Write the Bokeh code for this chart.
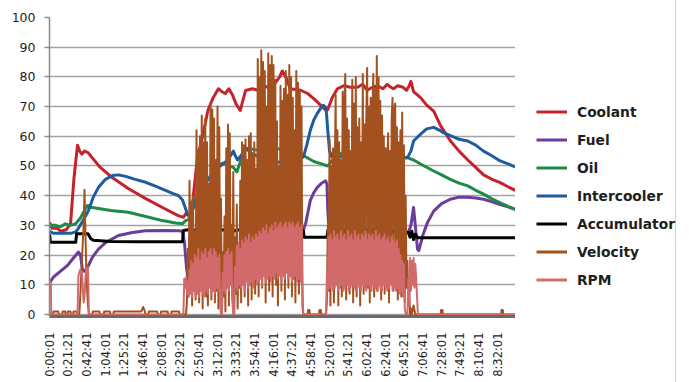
import numpy as np
from bokeh.plotting import figure
from bokeh.layouts import row
from bokeh.models import Range1d, FixedTicker, Legend, LegendItem
from bokeh.embed import file_html
from bokeh.resources import INLINE

# ---- time axis labels (h:mm:ss) -------------------------------------------
tick_labels = ["0:00:01", "0:21:21", "0:42:41", "1:04:01", "1:25:21", "1:46:41",
               "2:08:01", "2:29:21", "2:50:41", "3:12:01", "3:33:21", "3:54:41",
               "4:16:01", "4:37:21", "4:58:41", "5:20:01", "5:41:21", "6:02:41",
               "6:24:01", "6:45:21", "7:06:41", "7:28:01", "7:49:21", "8:10:41",
               "8:32:01"]
y_ticks = [0, 10, 20, 30, 40, 50, 60, 70, 80, 90, 100]
run_end = 532.5  # minutes

# ---- temperature / pressure channels (time in minutes) ---------------------
coolant_t = [0, 3, 9, 13, 19, 24, 28, 32, 34.5, 37, 40, 44, 58, 72, 90, 110, 129, 147, 153, 156,
             160, 163, 169, 174, 181, 187, 193, 197, 201, 205, 209, 213, 218, 224, 232, 238, 244, 250, 258, 263,
             266, 270, 275, 287, 295, 302, 310, 316, 318, 323, 329, 336, 344, 352, 358, 363, 369, 375, 381, 386,
             390, 393, 398, 404, 408, 411, 413, 416, 424, 431, 439, 447, 458, 468, 478, 487, 496, 505, 515, 524, 532]
coolant_v = [31, 29, 29, 28, 28.5, 30.5, 46, 57, 55, 54, 55, 54.5, 49.5, 46, 42.4, 39, 36, 33.3, 32.7, 34,
             33, 36, 53, 58.6, 68.7, 73, 76, 75, 74.4, 76, 74, 71, 68.7, 75.4, 76, 75.5, 77, 76.5, 78, 80,
             82, 80, 76, 75.5, 74.4, 72.7, 70.4, 68.7, 69, 73, 76, 77, 76.5, 76.5, 77.5, 75.5, 76.5, 77, 76, 77.5,
             76.5, 76, 77, 76.5, 75.5, 77, 78.5, 75, 73, 70.5, 68.5, 63.5, 58.5, 55, 52, 49.5, 47, 45.6, 44.4, 43, 41.8]

fuel_t = [0.5, 4.6, 10.3, 20.6, 27.4, 33.1, 35.4, 37.7, 40, 43.4, 49.1, 56, 64, 78.8, 94.8, 109.7, 130, 147.4, 152, 154.3,
          156.5, 158, 162, 170, 185, 200, 215, 230, 250, 270, 290, 293, 295, 298, 302, 306, 311, 315.4, 317, 318,
          319.5, 322, 360, 410, 413, 416, 418, 420.5, 422, 427, 432, 439, 448, 458, 468, 478, 487, 496, 505, 515, 524, 532]
fuel_v = [10.8, 12.6, 14, 16.5, 19, 21, 20, 15, 14.5, 15.8, 19.3, 22, 24.2, 26.6, 27.6, 28.2, 28.3, 28.2, 28, 24,
          16, 12.5, 12, 14, 18, 21, 23.5, 25.5, 27, 27.5, 28.3, 31, 34, 38.4, 41, 42.8, 44.2, 45, 44, 35,
          28, 27.5, 27.8, 27.5, 30, 36, 30, 22, 21.5, 27, 31, 34.8, 37.3, 38.8, 39.5, 39.5, 39.2, 38.8, 38, 37, 36.2, 35.4]

oil_t = [0, 7, 12.6, 18, 24, 29.7, 35.4, 41, 43.4, 49, 56, 70, 90, 110, 129, 144, 152, 155, 159, 165,
         175, 185, 193, 198, 205, 210, 214, 220, 224, 235, 243, 250, 258, 265, 275, 283, 290, 296, 302, 310,
         317.7, 321, 326, 335, 352, 370, 390, 409, 416, 425, 439, 448, 458, 468, 478, 487, 496, 505, 515, 524, 532]
oil_v = [30, 30, 29.5, 30.5, 30, 30.5, 32.5, 35.5, 36.7, 36, 35.7, 35, 34.4, 33, 31.6, 30.8, 30.5, 31.5, 32, 38,
         43, 47, 50, 51, 50, 49.5, 48, 53, 56, 55.5, 55.4, 55, 56, 55.5, 55, 54.3, 53.5, 52.5, 51.5, 50.8,
         50, 51, 53, 54.5, 54.3, 54, 53.5, 52.8, 52, 50.5, 48.3, 47, 45.5, 44.2, 43.3, 41.8, 40.5, 39, 37.6, 36.4, 35.4]

intercooler_t = [0, 4.6, 24, 30, 33, 39, 44.6, 50, 56, 64, 72, 79, 87, 98, 110, 121, 132.6, 140.5, 147.4, 152,
                 155, 158, 162, 170, 180, 190, 200, 206, 210, 213, 215, 220, 224, 232, 240, 250, 258, 265, 275, 286,
                 290, 294, 298, 302, 306, 310, 313, 316, 318, 320, 323, 330, 345, 360, 375, 390, 400, 409, 413, 416,
                 424, 431, 439, 446, 450, 458, 468, 478, 487, 496, 505, 515, 524, 532]
intercooler_v = [28, 27.3, 27.3, 27.8, 29, 32, 35, 39.5, 42.8, 45.5, 46.8, 47, 46.5, 45.5, 44.5, 43.2, 41.8, 40.8, 40, 38.5,
                 36, 33.5, 34, 40, 45, 49, 51, 53, 55, 53, 52, 54, 56, 54, 53, 52, 51, 51.5, 52, 52.5,
                 53, 57, 62, 65.5, 67.7, 69.5, 70.4, 69.5, 62, 55, 53, 53, 53.5, 52.5, 52.3, 52, 52.5, 52.8, 55, 58.4,
                 60.7, 62.5, 63, 62, 61.2, 60.2, 59, 58.4, 57, 55, 53.5, 51.7, 50.7, 49.7]

accumulator_t = [0, 0.5, 1, 30, 31, 44, 47, 50, 70, 100, 152, 153, 160, 170, 180, 190, 200, 210, 220, 230,
                 240, 250, 260, 270, 280, 290, 291, 317, 318, 330, 350, 370, 390, 409, 410, 412, 414, 416, 418, 421, 532]
accumulator_v = [27, 26, 24.3, 24.3, 27.2, 27.2, 25.6, 25, 24.6, 24.5, 24.5, 28.3, 28.6, 28.2, 28.8, 28.3, 28.5, 28.1, 28.7, 28.3,
                 28.6, 28.2, 28.8, 28.4, 28.6, 28.3, 26, 26, 28.3, 28.5, 28.2, 28.6, 28.3, 27.7, 27.7, 26, 28, 25.2, 27, 25.8, 25.8]

# ---- velocity: idle stretches as (t, v) points, driving bursts logged per minute
velocity_idle_a = [(0, 0), (4, 0), (4.5, 1), (10, 1), (10.5, 0), (14.5, 0), (15, 1), (18, 1), (18.5, 0),
                   (20.5, 0), (21, 1), (24, 1), (24.5, 0), (27, 0), (27.5, 1), (31, 1), (31.5, 0), (34, 0),
                   (35, 5), (37, 18), (39, 30), (40, 42), (41, 28), (42, 16), (43, 8), (44, 3), (45, 0),
                   (49, 0), (49.5, 1), (57, 1), (57.5, 0), (62, 0), (62.5, 1), (69, 1), (69.5, 0), (73, 0),
                   (73.5, 1), (105, 1), (107, 2.5), (109, 1), (109.5, 0), (113, 0), (113.5, 1), (123, 1),
                   (123.5, 0), (127, 0), (127.5, 1), (135, 1), (135.5, 0), (139, 0), (139.5, 1), (148, 1),
                   (148.5, 0), (156, 0)]
velocity_burst1_start = 157
velocity_burst1 = [4, 22, 6, 45, 8, 38, 3, 40, 10, 28, 5, 62, 12, 55, 4, 60, 9, 67, 2, 58,
                   11, 66, 6, 58, 3, 44, 10, 71, 5, 69, 12, 66, 4, 52, 8, 70, 2, 63, 9, 39,
                   0, 21, 6, 33, 1, 56, 10, 64, 3, 61, 11, 30, 5, 48, 0, 26, 7, 37, 2, 22,
                   9, 45, 4, 58, 12, 57, 6, 59, 13, 52, 3, 60, 10, 61, 5, 54, 14, 58, 7, 49,
                   12, 86, 6, 80, 15, 89, 9, 85, 13, 82, 4, 70, 16, 88, 8, 84, 14, 87, 6, 84,
                   17, 79, 10, 65, 3, 50, 15, 77, 8, 72, 13, 76, 5, 82, 16, 74, 9, 84, 14, 80,
                   6, 73, 12, 62, 4, 82, 15, 78, 7, 75, 13, 70, 3, 0]
velocity_idle_b = [(291, 0), (295, 0), (295.5, 1.5), (297, 1.5), (297.5, 0), (308, 0), (308.5, 1.5),
                   (310, 1.5), (310.5, 0), (316, 0)]
velocity_burst2_start = 317
velocity_burst2 = [5, 30, 8, 59, 3, 50, 12, 56, 4, 48, 74, 10, 62, 3, 58, 14, 52, 6, 75, 11,
                   70, 81, 5, 66, 13, 62, 7, 55, 15, 79, 4, 71, 12, 80, 6, 63, 14, 66, 3, 58,
                   12, 81, 7, 64, 16, 66, 83, 9, 70, 4, 73, 13, 68, 81, 6, 76, 14, 87, 8, 80,
                   12, 72, 5, 67, 15, 60, 7, 56, 11, 52, 61, 4, 55, 13, 66, 73, 8, 69, 71, 10,
                   63, 5, 58, 14, 62, 6, 68, 12, 57, 4, 40, 9, 18, 3, 8, 0, 2]
velocity_idle_c = [(414, 0), (416, 3), (418, 0), (447, 0), (447.5, 1.5), (449, 1.5), (449.5, 0),
                   (516, 0), (516.5, 1.5), (518, 1.5), (518.5, 0), (532.5, 0)]

# ---- engine speed (scaled) --------------------------------------------------
rpm_idle_a = [(0, 10.8), (1.5, 10.8), (2, 0), (32, 0), (33, 13), (35, 15), (36, 13.5), (37, 14.5),
              (38, 9), (39, 4), (40, 6), (41, 12), (42, 15.5), (43, 14), (44, 16), (45, 0), (153, 0)]
rpm_burst1_start = 154
rpm_burst1 = [12, 9, 12.5, 7, 11, 6, 15, 7, 18, 6, 17, 8, 20, 6, 19, 7, 22, 6, 18, 8,
              21, 7, 20, 6, 22, 8, 19, 7, 21, 9, 22, 7, 20, 8, 22, 7, 21, 9, 19, 8,
              20, 3, 0, 0, 14, 8, 20, 7, 21, 9, 22, 8, 20, 10, 21, 4, 0, 0, 16, 9,
              23, 8, 24, 10, 22, 9, 25, 10, 24, 8, 26, 11, 25, 9, 27, 10, 24, 11, 26, 9,
              25, 12, 27, 10, 26, 11, 28, 12, 27, 10, 29, 13, 28, 11, 30, 12, 27, 13, 29, 11,
              30, 13, 28, 12, 31, 14, 29, 12, 30, 13, 31, 11, 29, 13, 30, 12, 31, 14, 29, 12,
              31, 13, 30, 11, 31, 12, 29, 13, 30, 11, 31, 12, 29, 11, 30, 10, 0]
rpm_idle_b = [(291, 0), (315, 0)]
rpm_burst2_start = 316
rpm_burst2 = [0, 14, 8, 26, 9, 27, 10, 25, 8, 28, 9, 26, 10, 27, 8, 25, 9, 28, 10, 26,
              8, 27, 9, 25, 10, 28, 8, 26, 9, 27, 10, 25, 9, 28, 8, 26, 10, 27, 9, 25,
              8, 27, 10, 26, 9, 28, 8, 25, 10, 27, 9, 26, 8, 27, 10, 25, 9, 28, 8, 26,
              10, 27, 9, 25, 8, 26, 10, 27, 9, 25, 8, 26, 9, 24, 10, 26, 8, 25, 9, 24,
              8, 25, 9, 22, 7, 20, 8, 18, 6, 17, 2, 0, 0, 0, 12, 3, 19, 8, 18, 10,
              19, 9, 17, 12, 6, 0]
rpm_idle_c = [(422, 0), (532.5, 0)]


def hms_to_min(s):
    h, m, sec = (int(x) for x in s.split(":"))
    return h * 60 + m + sec / 60.0


def assemble(*parts):
    """Join (t, v) point lists and per-minute bursts (start, values) into arrays."""
    ts, vs = [], []
    for part in parts:
        if isinstance(part, tuple):
            start, vals = part
            ts.extend(start + np.arange(len(vals)))
            vs.extend(vals)
        else:
            ts.extend(pt[0] for pt in part)
            vs.extend(pt[1] for pt in part)
    return np.array(ts, dtype=float), np.array(vs, dtype=float)


velocity_t, velocity_v = assemble(velocity_idle_a, (velocity_burst1_start, velocity_burst1),
                                  velocity_idle_b, (velocity_burst2_start, velocity_burst2),
                                  velocity_idle_c)
rpm_t, rpm_v = assemble(rpm_idle_a, (rpm_burst1_start, rpm_burst1), rpm_idle_b,
                        (rpm_burst2_start, rpm_burst2), rpm_idle_c)

FONT = "DejaVu Sans"

# ---- main time-series plot ---------------------------------------------------
p = figure(width=515, height=382, output_backend="svg", toolbar_location=None,
           x_range=Range1d(0, run_end), y_range=Range1d(-0.7, 100),
           min_border_left=49, min_border_right=0, min_border_top=17, min_border_bottom=66)
p.outline_line_color = None
p.background_fill_color = "white"
p.border_fill_color = "white"

p.xgrid.grid_line_color = None
p.ygrid.grid_line_color = "#a3a3a3"
p.ygrid.grid_line_width = 1.5

p.yaxis.ticker = FixedTicker(ticks=y_ticks)
p.yaxis.axis_line_color = "#8c8c8c"
p.yaxis.axis_line_width = 1.5
p.yaxis.major_tick_line_color = "#8c8c8c"
p.yaxis.major_tick_line_width = 1.5
p.yaxis.major_tick_out = 5
p.yaxis.major_tick_in = 0
p.yaxis.minor_tick_line_color = None
p.yaxis.major_label_standoff = 9
p.yaxis.major_label_text_font = FONT
p.yaxis.major_label_text_font_size = "12.5px"
p.yaxis.major_label_text_color = "#1e1e1e"

tick_pos = [hms_to_min(s) for s in tick_labels]
p.xaxis.ticker = FixedTicker(ticks=tick_pos)
p.xaxis.major_label_overrides = {tp: lab for tp, lab in zip(tick_pos, tick_labels)}
p.xaxis.major_label_orientation = np.pi / 2
p.xaxis.axis_line_color = "#6b6b6b"
p.xaxis.axis_line_width = 3
p.xaxis.major_tick_line_color = None
p.xaxis.minor_tick_line_color = None
p.xaxis.major_label_standoff = 10
p.xaxis.major_label_text_font = FONT
p.xaxis.major_label_text_font_size = "11.5px"
p.xaxis.major_label_text_color = "#1e1e1e"

series = [
    ("Coolant", coolant_t, coolant_v, "#c4232c", 3),
    ("Fuel", fuel_t, fuel_v, "#6a3d9a", 3),
    ("Oil", oil_t, oil_v, "#1f8a47", 3),
    ("Intercooler", intercooler_t, intercooler_v, "#1f5c9e", 3),
    ("Accumulator", accumulator_t, accumulator_v, "#000000", 3),
    ("Velocity", velocity_t, velocity_v, "#a3521f", 2),
    ("RPM", rpm_t, rpm_v, "#d26a6b", 2),
]

for name, t, v, color, w in series:
    p.line(t, v, line_color=color, line_width=w, line_join="round")

# ---- key panel to the right of the plot --------------------------------------
key = figure(width=161, height=382, output_backend="svg", toolbar_location=None,
             x_range=Range1d(0, 1), y_range=Range1d(0, 1),
             x_axis_location=None, y_axis_location=None,
             min_border_left=0, min_border_right=0, min_border_top=0, min_border_bottom=0)
key.grid.grid_line_color = None
key.outline_line_color = None
key.border_fill_color = "white"
key.styles = {"border-right": "1px solid #cfcfcf"}

items = []
for name, t, v, color, w in series:
    # swatch-only renderer: a single missing point, so nothing is drawn in the panel
    r = key.line([np.nan], [np.nan], line_color=color, line_width=3)
    items.append(LegendItem(label=name, renderers=[r]))

# the row aligns this panel's frame with the plot frame (y from 17 to 316)
legend = Legend(items=items, location=(21, 26), orientation="vertical")
legend.padding = 0
legend.margin = 0
legend.spacing = 7
legend.border_line_color = None
legend.background_fill_alpha = 0
legend.glyph_width = 31
legend.glyph_height = 21
legend.label_height = 21
legend.label_standoff = 10
legend.label_text_font = FONT
legend.label_text_font_size = "13.8px"
legend.label_text_font_style = "bold"
legend.label_text_color = "#1e1e1e"
key.add_layout(legend, "center")

layout = row(p, key)
open("out.html", "w").write(file_html(layout, INLINE))
